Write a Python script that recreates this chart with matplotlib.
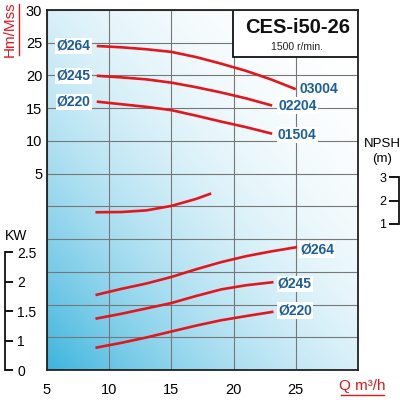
import numpy as np
import matplotlib
matplotlib.use("Agg")
import matplotlib.pyplot as plt
from matplotlib.patches import Rectangle
from matplotlib.lines import Line2D

plt.rcParams['font.family'] = ['Liberation Sans', 'DejaVu Sans']

# ---------------- data ----------------
title = "CES-i50-26"
subtitle = "1500 r/min."

q_head_264 = [9, 11, 13, 15, 17, 19, 21, 23, 25]
h_264 = [24.5, 24.3, 24.0, 23.6, 22.8, 21.8, 20.7, 19.4, 17.9]
q_head_245 = [9, 11, 13, 15, 17, 19, 21, 23.1]
h_245 = [19.95, 19.7, 19.4, 18.9, 18.2, 17.4, 16.5, 15.4]
q_head_220 = [9, 11, 13, 15, 17, 19, 21, 23.1]
h_220 = [16.0, 15.6, 15.2, 14.7, 13.85, 12.95, 12.1, 11.1]

q_kw_264 = [9, 11, 13, 15, 17, 19, 21, 23, 25]
kw_264 = [1.78, 1.88, 1.97, 2.08, 2.21, 2.33, 2.43, 2.51, 2.58]
q_kw_245 = [9, 11, 13, 15, 17, 19, 21, 23.1]
kw_245 = [1.38, 1.46, 1.55, 1.64, 1.76, 1.87, 1.94, 1.99]
q_kw_220 = [9, 11, 13, 15, 17, 19, 21, 23.1]
kw_220 = [0.89, 0.97, 1.06, 1.16, 1.26, 1.35, 1.42, 1.49]

q_npsh = [9, 11, 13, 15, 17, 18.1]
npsh = [1.50, 1.51, 1.58, 1.77, 2.07, 2.28]

head_labels = ["Ø264", "Ø245", "Ø220"]
model_labels = ["03004", "02204", "01504"]
kw_labels = ["Ø264", "Ø245", "Ø220"]

x_ticks = [5, 10, 15, 20, 25]
y_ticks = [5, 10, 15, 20, 25, 30]
kw_tick_vals = [1, 1.5, 2, 2.5]
kw_tick_labels = ["0", "1", "1.5", "2", "2.5"]
npsh_ticks = [1, 2, 3]

# ---------------- style ----------------
RED = '#e3161c'
BLUE = '#1b5e9e'
LW = 1.9

fig = plt.figure(figsize=(4, 4), dpi=100)
pos = [47/400, 30/400, 311/400, 360/400]
ax = fig.add_axes(pos)
ax.set_xlim(5, 30)
ax.set_ylim(-25, 30)

# gradient background
n = 300
xx, yy = np.meshgrid(np.linspace(0, 1, n), np.linspace(0, 1, n))
t = ((1 - xx) + (1 - yy)) / 2
s = t ** 2.3
blue = np.array([60, 180, 222]) / 255.0
img = np.ones((n, n, 3)) - s[..., None] * (1 - blue)
ax.imshow(img, extent=[0, 1, 0, 1], transform=ax.transAxes, origin='lower',
          aspect='auto', zorder=0, interpolation='bilinear')

ax.set_xticks(np.arange(5, 31, 5))
ax.set_yticks(np.arange(-25, 31, 5))
ax.grid(True, color='#777777', lw=0.8, zorder=1)
ax.set_axisbelow(False)
ax.tick_params(length=0, labelsize=10.5, pad=3.5)
ax.tick_params(axis='x', pad=9)
ax.set_xticklabels([str(v) if v in x_ticks else '' for v in np.arange(5, 31, 5)])
ax.set_yticklabels([str(v) if v in y_ticks else '' for v in np.arange(-25, 31, 5)])
for sp in ax.spines.values():
    sp.set_color('#222222')
    sp.set_linewidth(1.3)
    sp.set_zorder(5)

# head curves
txt_kw = dict(color=BLUE, fontsize=10, fontweight='bold', va='center', zorder=6,
              textcoords='offset points',
              bbox=dict(facecolor='white', edgecolor='none', pad=0.8))
for q, h, lab, mlab, off in zip([q_head_264, q_head_245, q_head_220],
                                [h_264, h_245, h_220], head_labels, model_labels,
                                [(2.5, 0.5), (4.5, 0), (4, -1)]):
    ax.plot(q, h, color=RED, lw=LW, zorder=4, solid_capstyle='butt')
    ax.annotate(lab, (q[0], h[0]), xytext=(-4.5, 0), ha='right', **txt_kw)
    ax.annotate(mlab, (q[-1], h[-1]), xytext=off, ha='left', **txt_kw)

# title box
ax.add_patch(Rectangle((0.598, 0.869), 0.402, 0.131, transform=ax.transAxes,
                       facecolor='white', edgecolor='#111111', lw=1.3, zorder=5))
ax.text(0.805, 0.951, title, transform=ax.transAxes, ha='center', va='center',
        fontsize=14.5, fontweight='bold', zorder=6, color='#111111')
ax.text(0.805, 0.897, subtitle, transform=ax.transAxes, ha='center', va='center',
        fontsize=7.5, zorder=6, color='#222222')

# KW overlay axes
kw_lo = 1 - 29/59.3
kw_hi = 1 + 331/59.3
axk = fig.add_axes(pos)
axk.set_xlim(5, 30)
axk.set_ylim(kw_lo, kw_hi)
axk.patch.set_visible(False)
for k in ['top', 'bottom', 'left']:
    axk.spines[k].set_visible(False)
axk.set_xticks([])
axk.spines['right'].set_position(('axes', (5 - 47) / 311))
axk.spines['right'].set_bounds(kw_lo, kw_tick_vals[-1])
axk.spines['right'].set_linewidth(1.3)
axk.spines['right'].set_color('#111111')
axk.yaxis.set_ticks_position('right')
axk.set_yticks([kw_lo] + kw_tick_vals)
axk.set_yticklabels(kw_tick_labels)
axk.tick_params(axis='y', direction='out', length=6, width=1.3, labelsize=10, pad=3)
for q, k, lab, off in zip([q_kw_264, q_kw_245, q_kw_220], [kw_264, kw_245, kw_220],
                          kw_labels, [(3, -1.5), (4, -1), (4.5, 1)]):
    axk.plot(q, k, color=RED, lw=LW, zorder=4)
    axk.annotate(lab, (q[-1], k[-1]), xytext=off, ha='left', **txt_kw)
fig.text(5/400, 1 - 236/400, "KW", fontsize=10, ha='left', va='center')

# NPSH overlay axes
np_lo = 1 - 146/23.5
np_hi = 1 + 214/23.5
axn = fig.add_axes(pos)
axn.set_xlim(5, 30)
axn.set_ylim(np_lo, np_hi)
axn.patch.set_visible(False)
for k in ['top', 'bottom', 'right']:
    axn.spines[k].set_visible(False)
axn.set_xticks([])
axn.spines['left'].set_position(('axes', (398.5 - 47) / 311))
axn.spines['left'].set_bounds(npsh_ticks[0], npsh_ticks[-1])
axn.spines['left'].set_linewidth(1.3)
axn.spines['left'].set_color('#111111')
axn.set_yticks(npsh_ticks)
axn.set_yticklabels([str(v) for v in npsh_ticks])
axn.tick_params(axis='y', direction='out', length=7, width=1.3, labelsize=9, pad=2)
axn.plot(q_npsh, npsh, color=RED, lw=LW, zorder=4)
fig.text(382/400, 1 - 144/400, "NPSH", fontsize=9.5, ha='center', va='center')
fig.text(382/400, 1 - 159/400, "(m)", fontsize=9.5, ha='center', va='center')

# axis titles (red, underlined)
fig.text(10/400, 1 - 29/400, "Hm/Mss", color=RED, fontsize=11, rotation=90,
         ha='center', va='center')
fig.add_artist(Line2D([18.5/400, 18.5/400], [1 - 55/400, 1 - 4/400], color=RED, lw=1.0))
fig.text(362/400, 1 - 386/400, "Q m³/h", color=RED, fontsize=11,
         ha='center', va='center')
fig.add_artist(Line2D([341/400, 384/400], [1 - 395/400, 1 - 395/400], color=RED, lw=1.0))

fig.savefig("out.png", dpi=100)
